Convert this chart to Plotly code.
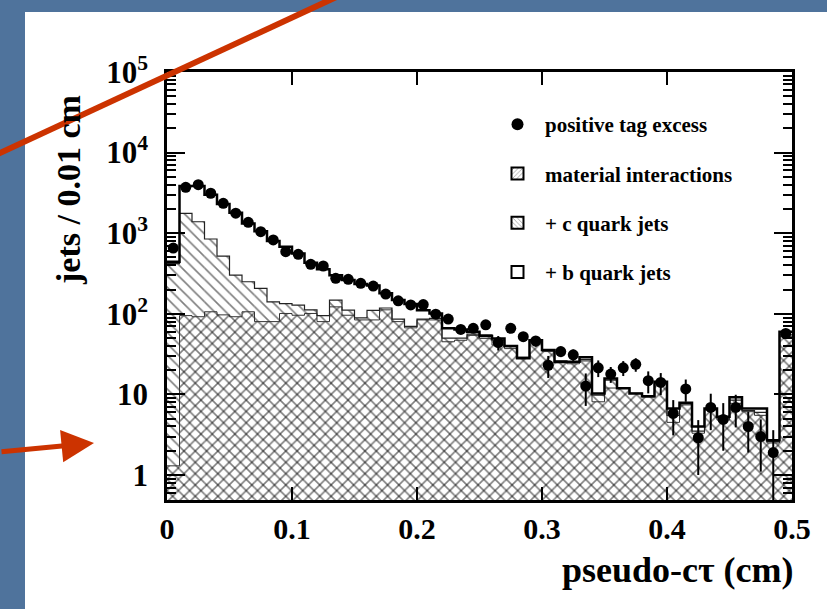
import numpy as np
import plotly.graph_objects as go

# ---------------- data ----------------
bin_width = 0.01
n_bins = 50
edges = np.round(np.arange(n_bins + 1) * bin_width, 3)
centers = edges[:-1] + bin_width / 2

tag_excess = [655, 3710, 4000, 3130, 2350, 1770, 1365, 1045, 825, 589,
              547, 411, 392, 276, 268, 239, 221, 176, 145, 129,
              130, 99, 86, 64, 66, 73, 44, 66, 52, 46,
              23, 34, 31, 12.7, 21.4, 17.9, 21.4, 23.6, 14.8, 14.1,
              5.8, 11.7, 2.9, 6.9, 4.9, 6.9, 4.0, 3.0, 1.9, 57]
tag_err = [20, 60, 60, 55, 50, 45, 40, 35, 30, 25,
           25, 20, 20, 17, 17, 16, 15, 14, 13, 12,
           12, 10, 10, 8, 8, 9, 9, 8, 7, 7,
           7, 5, 5, 5.5, 5, 4, 4.5, 4.5, 4.5, 4.3,
           2.7, 3.6, 1.9, 3.3, 2.9, 3.0, 2.1, 1.9, 1.7, 8]
b_total = [443, 3850, 3850, 3000, 2300, 1800, 1320, 1060, 800, 680,
           560, 430, 356, 300, 262, 235, 225, 180, 148, 132,
           111, 101, 66, 64, 60, 53, 49.5, 40, 28, 47,
           35.5, 25.5, 25.5, 29, 10.3, 15.8, 11.9, 10.3, 9.5, 14.4,
           6.7, 7.9, 4.0, 6.7, 5.3, 9.2, 6.7, 6.7, 2.7, 60]
c_total = [420, 1766, 1387, 847, 521, 302, 250, 207, 141, 134,
           128, 112, 95, 148, 111, 89, 110, 118, 86, 70,
           86, 88, 50, 50, 56, 55, 47, 39, 29, 46,
           36, 26, 25, 27, 9.8, 15, 12, 10.3, 9.4, 14,
           5.5, 7.6, 3.5, 6.5, 5.1, 8.5, 6.3, 6.0, 2.6, 55]
material = [1.3, 95, 92, 106, 97, 92, 106, 80, 80, 101,
            96, 101, 80, 122, 96, 84, 84, 112, 80, 67,
            84, 84, 45, 47, 54, 49.5, 41, 37, 28, 45,
            34, 24.6, 24, 26, 8.1, 12, 11.9, 10.3, 9.3, 13.7,
            4.5, 7.4, 3.3, 6.4, 4.8, 7.75, 6.1, 5.5, 2.5, 52]

x_ticks = [0, 0.1, 0.2, 0.3, 0.4, 0.5]
x_ticktext = ["0", "0.1", "0.2", "0.3", "0.4", "0.5"]
y_ticks = [1, 10, 100, 1000, 1e4, 1e5]
y_ticktext = ["1", "10", "10<sup>2</sup>", "10<sup>3</sup>", "10<sup>4</sup>", "10<sup>5</sup>"]
y_minor = [m * 10.0 ** e for e in range(-1, 5) for m in range(2, 10)]

FONT = "Liberation Serif"

fig = go.Figure()

# hatched stacks (c stack drawn with '\' ; material with '/' -> crosshatch overlap)
fig.add_trace(go.Bar(x=centers, y=c_total, width=bin_width, showlegend=False,
                     marker=dict(color="rgba(0,0,0,0)", line=dict(width=0),
                                 pattern=dict(shape="\\", fgcolor="black", size=8,
                                              solidity=0.2, fillmode="overlay"))))
fig.add_trace(go.Bar(x=centers, y=material, width=bin_width, showlegend=False,
                     marker=dict(color="rgba(0,0,0,0)", line=dict(width=0),
                                 pattern=dict(shape="/", fgcolor="black", size=8,
                                              solidity=0.2, fillmode="overlay"))))

def step_y(v):
    return list(v) + [v[-1]]

fig.add_trace(go.Scatter(x=edges, y=step_y(material), mode="lines", line_shape="hv",
                         line=dict(color="#333", width=1), showlegend=False))
fig.add_trace(go.Scatter(x=edges, y=step_y(c_total), mode="lines", line_shape="hv",
                         line=dict(color="#222", width=1.2), showlegend=False))
fig.add_trace(go.Scatter(x=edges, y=step_y(b_total), mode="lines", line_shape="hv",
                         line=dict(color="black", width=2.5), showlegend=False))

fig.add_trace(go.Scatter(x=centers, y=tag_excess, mode="markers",
                         marker=dict(color="black", size=11, symbol="circle"),
                         error_y=dict(type="data", array=tag_err, color="black",
                                      thickness=2, width=0),
                         name="positive tag excess", legendgroup="a", legendrank=1))

# legend-only keys
fig.add_trace(go.Bar(x=[None], y=[None], name="material interactions", legendgroup="b",
                     legendrank=2,
                     marker=dict(color="white", line=dict(color="black", width=1.5),
                                 pattern=dict(shape="/", fgcolor="black", size=4,
                                              solidity=0.2, fillmode="overlay"))))
fig.add_trace(go.Bar(x=[None], y=[None], name="+ c quark jets", legendgroup="c",
                     legendrank=3,
                     marker=dict(color="white", line=dict(color="black", width=1.5),
                                 pattern=dict(shape="\\", fgcolor="black", size=4,
                                              solidity=0.2, fillmode="overlay"))))
fig.add_trace(go.Bar(x=[None], y=[None], name="+ b quark jets", legendgroup="d",
                     legendrank=4,
                     marker=dict(color="white", line=dict(color="black", width=1.5))))

W, H = 827, 609
L, R, T, B = 167, 35, 72, 109
pw, ph = W - L - R, H - T - B

def px(x):
    return (x - L) / pw

def py(y):
    return (H - B - y) / ph

fig.update_layout(
    width=W, height=H, autosize=False,
    margin=dict(l=L, r=R, t=T, b=B, pad=0),
    paper_bgcolor="#4f739c", plot_bgcolor="white",
    barmode="overlay",
    font=dict(family=FONT, color="black", size=20, weight="bold"),
    legend=dict(x=px(490), y=py(104), xanchor="left", yanchor="top",
                bgcolor="rgba(0,0,0,0)", borderwidth=0, tracegroupgap=19,
                font=dict(family=FONT, size=21, color="black", weight="bold"),
                itemwidth=45, itemsizing="constant"),
    xaxis=dict(range=[0, 0.5], tickvals=x_ticks, ticktext=x_ticktext,
               ticks="inside", ticklen=13, tickwidth=2, tickcolor="black",
               showline=True, linewidth=2.5, linecolor="black", mirror="allticks",
               showgrid=False, zeroline=False,
               tickfont=dict(family=FONT, size=30, weight="bold")),
    yaxis=dict(type="log", range=[-0.31, 5], tickvals=y_ticks, ticktext=y_ticktext,
               ticks="inside", ticklen=18, tickwidth=2, tickcolor="black",
               minor=dict(tickvals=y_minor, ticks="inside", ticklen=9, tickwidth=2,
                          tickcolor="black", showgrid=False),
               showline=True, linewidth=2.5, linecolor="black", mirror="allticks",
               showgrid=False, zeroline=False, ticklabelstandoff=10,
               tickfont=dict(family=FONT, size=31, weight="bold")),
    shapes=[
        dict(type="rect", xref="paper", yref="paper", layer="below",
             x0=px(25), x1=px(900), y0=py(700), y1=py(12),
             fillcolor="white", line=dict(width=0)),
        dict(type="line", xref="paper", yref="paper", layer="above",
             x0=px(-10), y0=py(157.6), x1=px(345), y1=py(-7),
             line=dict(color="#cc3300", width=6)),
    ],
    annotations=[
        dict(text="jets / 0.01 cm", xref="paper", yref="paper", x=px(68), y=py(190),
             textangle=-90, showarrow=False, xanchor="center", yanchor="middle",
             font=dict(family=FONT, size=34, weight="bold")),
        dict(text="pseudo-cτ (cm)", xref="paper", yref="paper", x=px(796), y=py(570),
             showarrow=False, xanchor="right", yanchor="middle",
             font=dict(family=FONT, size=36, weight="bold")),
        dict(text="", xref="paper", yref="paper", x=px(94), y=py(443),
             ax=-96, ay=9, showarrow=True, arrowhead=2, arrowsize=1.3,
             arrowwidth=5, arrowcolor="#cc3300"),
    ],
)

fig.write_html("out.html")
